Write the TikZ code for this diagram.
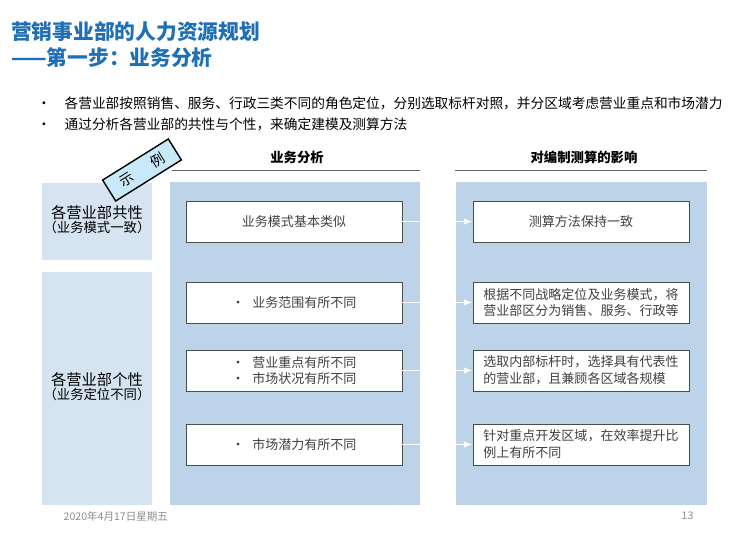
\documentclass[tikz,border=0pt]{standalone}
\usepackage{fontspec}
\setmainfont{Noto Sans CJK SC}
\usetikzlibrary{positioning,arrows.meta}
\definecolor{titleblue}{HTML}{1F6FB5}
\definecolor{panelblue}{HTML}{BDD3E9}
\definecolor{sideblue}{HTML}{D6E4F1}
\definecolor{badgecyan}{HTML}{C8E9F8}
\tikzset{
  panel/.style={fill=panelblue, draw=none},
  sidepanel/.style={fill=sideblue, draw=none},
  itembox/.style={draw=black!70, fill=white, minimum width=4.32cm, minimum height=0.82cm, font=\fontsize{7.4}{9.5}\selectfont, text=black!75, align=left},
  flow/.style={draw=white, -{Latex[length=5pt]}, thick},
  header/.style={font=\fontsize{7.6}{9}\selectfont\bfseries},
  sidetext/.style={font=\fontsize{8.7}{11}\selectfont, align=center}
}
\begin{document}
\begin{tikzpicture}[x=1cm,y=1cm]
    \useasboundingbox (0,0) rectangle (15,10.7);
    % Title
    \node[anchor=west, text=titleblue, font=\fontsize{11.8}{13}\selectfont\bfseries] (title) at (0.1,10.06) {营销事业部的人力资源规划};
    \node[anchor=west, text=titleblue, font=\fontsize{11.8}{13}\selectfont\bfseries] (subtitle) at (0.1,9.54) {——第一步：业务分析};
    % Bullets
    \node[anchor=west, font=\fontsize{7.8}{9}\selectfont] (b1) at (0.62,8.64) {•\hspace{1em}各营业部按照销售、服务、行政三类不同的角色定位，分别选取标杆对照，并分区域考虑营业重点和市场潜力};
    \node[anchor=west, font=\fontsize{7.8}{9}\selectfont] (b2) at (0.62,8.22) {•\hspace{1em}通过分析各营业部的共性与个性，来确定建模及测算方法};

    % Panels
    \fill[sidepanel] (0.84,5.5) rectangle (3.04,7.04);
    \fill[sidepanel] (0.84,0.6) rectangle (3.04,5.26);
    \fill[panel] (3.4,0.6) rectangle (8.4,7.06);
    \fill[panel] (9.12,0.6) rectangle (14.14,7.06);

    % Headers
    \node[header] (h1) at (5.94,7.56) {业务分析};
    \node[header] (h2) at (11.68,7.56) {对编制测算的影响};
    \draw[black!60] (3.44,7.3) -- (8.4,7.3);
    \draw[black!60] (9.1,7.3) -- (14.14,7.3);

    % Side texts
    \node[sidetext] (common) at (1.94,6.3) {各营业部共性\\[-3pt]{\fontsize{7.6}{9}\selectfont（业务模式一致）}};
    \node[sidetext] (indiv) at (1.94,2.97) {各营业部个性\\[-3pt]{\fontsize{7.6}{9}\selectfont（业务定位不同）}};

    % Boxes
    \node[itembox, align=center] (a1) at (5.88,6.27) {业务模式基本类似};
    \node[itembox] (a2) at (5.88,4.65) {•\hspace{0.6em}业务范围有所不同};
    \node[itembox] (a3) at (5.88,3.29) {•\hspace{0.6em}营业重点有所不同\\•\hspace{0.6em}市场状况有所不同};
    \node[itembox] (a4) at (5.88,1.81) {•\hspace{0.6em}市场潜力有所不同};

    \node[itembox, align=center] (r1) at (11.62,6.27) {测算方法保持一致};
    \node[itembox] (r2) at (11.62,4.65) {根据不同战略定位及业务模式，将\\营业部区分为销售、服务、行政等};
    \node[itembox] (r3) at (11.62,3.29) {选取内部标杆时，选择具有代表性\\的营业部，且兼顾各区域各规模};
    \node[itembox] (r4) at (11.62,1.81) {针对重点开发区域，在效率提升比\\例上有所不同\phantom{区域，在效率提升}};

    % Connectors
    \foreach \i in {1,2,3,4} {
        \draw[flow] (a\i.east) -- (r\i.west);
    }

    % Badge
    \node[draw=black, thick, fill=badgecyan, rotate=32, minimum width=1.55cm, minimum height=0.4cm, font=\fontsize{8}{9}\selectfont] (badge) at (2.84,7.3) {示\hspace{1.6em}例};

    % Footer
    \node[anchor=west, text=black!45, font=\fontsize{6}{7}\selectfont] (date) at (1.15,0.38) {2020年4月17日星期五};
    \node[text=black!45, font=\fontsize{6}{7}\selectfont] (page) at (13.75,0.38) {13};
\end{tikzpicture}
\end{document}
